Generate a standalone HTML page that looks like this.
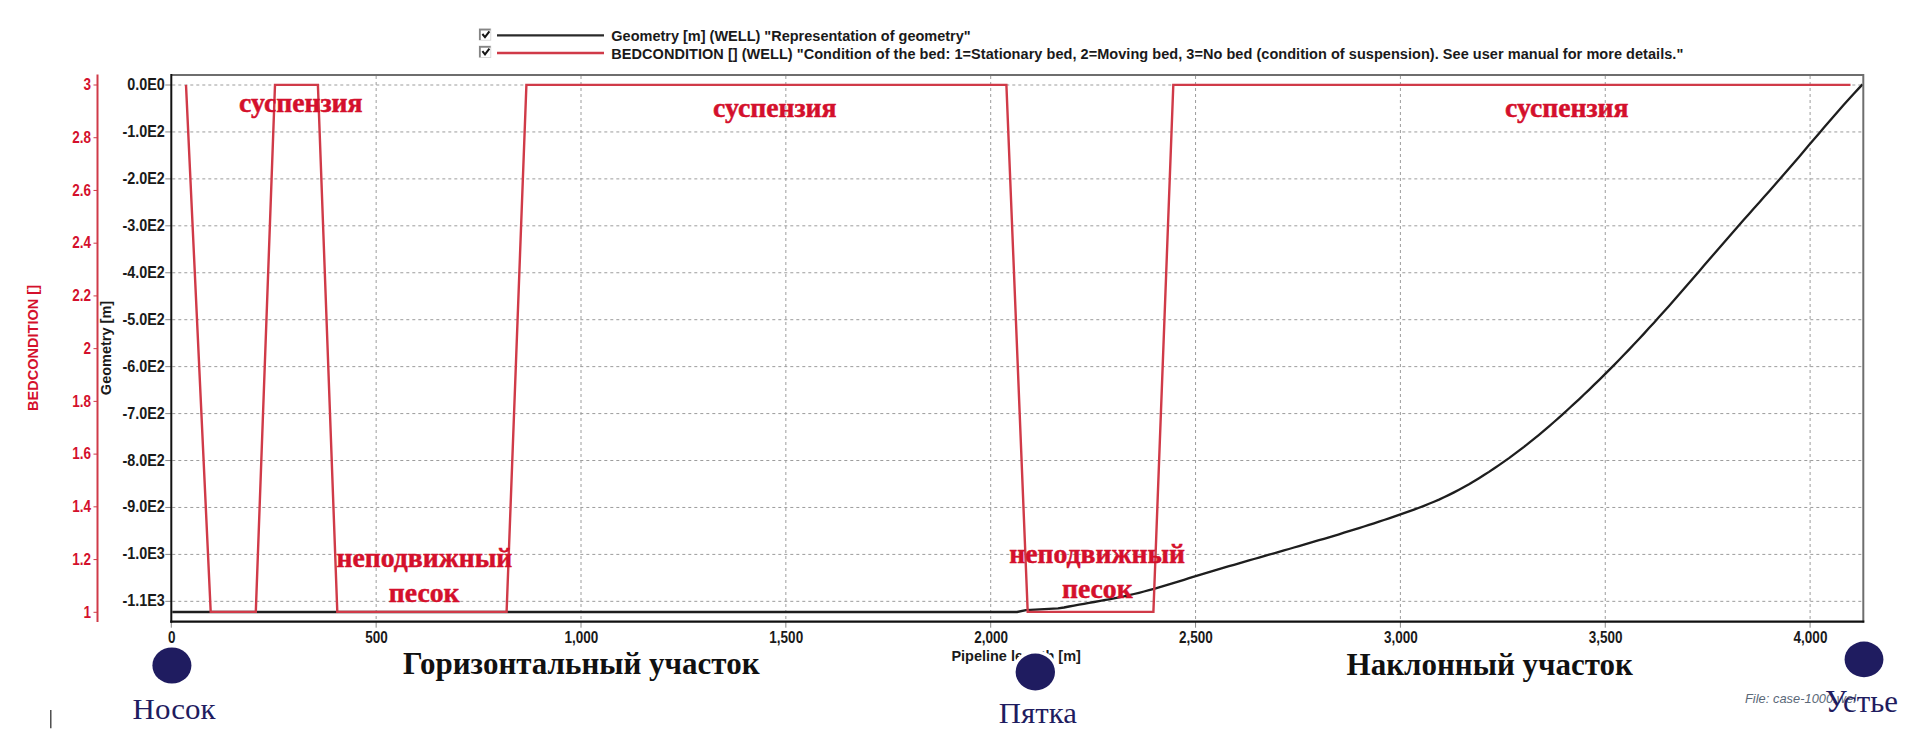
<!DOCTYPE html><html><head><meta charset="utf-8"><style>html,body{margin:0;padding:0;background:#fff;width:1929px;height:750px;overflow:hidden}svg{display:block}</style></head><body>
<svg width="1929" height="750" viewBox="0 0 1929 750">
<rect x="0" y="0" width="1929" height="750" fill="#fff"/>
<g stroke="#9c9c9c" stroke-width="1" stroke-dasharray="3 3"><line x1="172.3" y1="85.00" x2="1862.3" y2="85.00"/><line x1="172.3" y1="131.94" x2="1862.3" y2="131.94"/><line x1="172.3" y1="178.88" x2="1862.3" y2="178.88"/><line x1="172.3" y1="225.82" x2="1862.3" y2="225.82"/><line x1="172.3" y1="272.76" x2="1862.3" y2="272.76"/><line x1="172.3" y1="319.70" x2="1862.3" y2="319.70"/><line x1="172.3" y1="366.64" x2="1862.3" y2="366.64"/><line x1="172.3" y1="413.58" x2="1862.3" y2="413.58"/><line x1="172.3" y1="460.52" x2="1862.3" y2="460.52"/><line x1="172.3" y1="507.46" x2="1862.3" y2="507.46"/><line x1="172.3" y1="554.40" x2="1862.3" y2="554.40"/><line x1="172.3" y1="601.34" x2="1862.3" y2="601.34"/><line x1="376.15" y1="76.0" x2="376.15" y2="620.7"/><line x1="581.00" y1="76.0" x2="581.00" y2="620.7"/><line x1="785.85" y1="76.0" x2="785.85" y2="620.7"/><line x1="990.70" y1="76.0" x2="990.70" y2="620.7"/><line x1="1195.55" y1="76.0" x2="1195.55" y2="620.7"/><line x1="1400.40" y1="76.0" x2="1400.40" y2="620.7"/><line x1="1605.25" y1="76.0" x2="1605.25" y2="620.7"/><line x1="1810.10" y1="76.0" x2="1810.10" y2="620.7"/></g>
<g stroke="#888" stroke-width="1"><line x1="165.3" y1="85.00" x2="171.3" y2="85.00"/><line x1="165.3" y1="131.94" x2="171.3" y2="131.94"/><line x1="165.3" y1="178.88" x2="171.3" y2="178.88"/><line x1="165.3" y1="225.82" x2="171.3" y2="225.82"/><line x1="165.3" y1="272.76" x2="171.3" y2="272.76"/><line x1="165.3" y1="319.70" x2="171.3" y2="319.70"/><line x1="165.3" y1="366.64" x2="171.3" y2="366.64"/><line x1="165.3" y1="413.58" x2="171.3" y2="413.58"/><line x1="165.3" y1="460.52" x2="171.3" y2="460.52"/><line x1="165.3" y1="507.46" x2="171.3" y2="507.46"/><line x1="165.3" y1="554.40" x2="171.3" y2="554.40"/><line x1="165.3" y1="601.34" x2="171.3" y2="601.34"/><line x1="171.30" y1="621.7" x2="171.30" y2="627.7"/><line x1="376.15" y1="621.7" x2="376.15" y2="627.7"/><line x1="581.00" y1="621.7" x2="581.00" y2="627.7"/><line x1="785.85" y1="621.7" x2="785.85" y2="627.7"/><line x1="990.70" y1="621.7" x2="990.70" y2="627.7"/><line x1="1195.55" y1="621.7" x2="1195.55" y2="627.7"/><line x1="1400.40" y1="621.7" x2="1400.40" y2="627.7"/><line x1="1605.25" y1="621.7" x2="1605.25" y2="627.7"/><line x1="1810.10" y1="621.7" x2="1810.10" y2="627.7"/></g>
<polyline fill="none" stroke="#1e1e1e" stroke-width="2.3" stroke-linejoin="round" points="172.3,612.0 1017.0,612.0 1026.0,610.2 1058.0,608.4 1064.0,607.5 1069.0,606.5 1074.0,605.6 1079.0,604.7 1084.0,603.8 1089.0,602.9 1094.0,602.0 1099.0,601.1 1104.0,600.2 1109.0,599.3 1114.0,598.3 1119.0,597.3 1124.0,596.3 1129.0,595.2 1134.0,594.0 1139.0,592.8 1144.0,591.5 1149.0,590.2 1154.0,588.8 1159.0,587.3 1164.0,585.9 1169.0,584.4 1174.0,582.9 1179.0,581.3 1184.0,579.8 1189.0,578.2 1194.0,576.7 1199.0,575.2 1204.0,573.7 1209.0,572.2 1214.0,570.7 1219.0,569.2 1224.0,567.7 1229.0,566.2 1234.0,564.8 1239.0,563.3 1244.0,561.9 1249.0,560.4 1254.0,559.0 1259.0,557.6 1264.0,556.1 1269.0,554.7 1274.0,553.3 1279.0,551.8 1284.0,550.4 1289.0,549.0 1294.0,547.5 1299.0,546.1 1304.0,544.6 1309.0,543.2 1314.0,541.7 1319.0,540.2 1324.0,538.8 1329.0,537.3 1334.0,535.8 1339.0,534.3 1344.0,532.7 1349.0,531.2 1354.0,529.7 1359.0,528.1 1364.0,526.5 1369.0,524.9 1374.0,523.3 1379.0,521.6 1384.0,520.0 1389.0,518.3 1394.0,516.6 1399.0,514.9 1404.0,513.2 1409.0,511.4 1414.0,509.6 1419.0,507.7 1424.0,505.8 1429.0,503.8 1434.0,501.7 1439.0,499.6 1444.0,497.3 1449.0,494.9 1454.0,492.4 1459.0,489.8 1464.0,487.1 1469.0,484.3 1474.0,481.3 1479.0,478.2 1484.0,475.1 1489.0,471.9 1494.0,468.5 1499.0,465.1 1504.0,461.6 1509.0,458.1 1514.0,454.4 1519.0,450.7 1524.0,446.9 1529.0,442.9 1534.0,438.9 1539.0,434.8 1544.0,430.6 1549.0,426.3 1554.0,422.0 1559.0,417.6 1564.0,413.1 1569.0,408.5 1574.0,403.9 1579.0,399.3 1584.0,394.5 1589.0,389.8 1594.0,384.9 1599.0,380.1 1604.0,375.1 1609.0,370.1 1614.0,365.1 1619.0,360.0 1624.0,354.8 1629.0,349.6 1634.0,344.3 1639.0,339.0 1644.0,333.6 1649.0,328.1 1654.0,322.7 1659.0,317.1 1664.0,311.5 1669.0,305.9 1674.0,300.2 1679.0,294.5 1684.0,288.7 1689.0,283.0 1694.0,277.2 1699.0,271.4 1704.0,265.6 1709.0,259.8 1714.0,254.0 1719.0,248.2 1724.0,242.4 1729.0,236.7 1734.0,230.9 1739.0,225.2 1744.0,219.6 1749.0,213.9 1754.0,208.3 1759.0,202.7 1764.0,197.1 1769.0,191.4 1774.0,185.8 1779.0,180.1 1784.0,174.3 1789.0,168.5 1794.0,162.7 1799.0,156.9 1804.0,151.0 1809.0,145.1 1814.0,139.3 1819.0,133.4 1824.0,127.6 1829.0,121.8 1834.0,116.0 1839.0,110.3 1844.0,104.6 1849.0,99.1 1854.0,93.5 1859.0,88.1 1862.5,84.4"/>
<polyline fill="none" stroke="#d03a48" stroke-width="2.4" stroke-linejoin="miter" points="186.0,84.9 210.7,611.9 255.8,611.9 275.0,84.9 317.9,84.9 337.3,611.9 506.6,611.9 526.4,84.9 1006.4,84.9 1027.7,611.9 1153.4,611.9 1173.3,84.9 1850.5,84.9"/>
<line x1="171.3" y1="75" x2="1863.3" y2="75" stroke="#6e6e6e" stroke-width="2"/>
<line x1="1863.3" y1="74" x2="1863.3" y2="622.5" stroke="#6e6e6e" stroke-width="2"/>
<line x1="170.3" y1="621.7" x2="1864.3" y2="621.7" stroke="#111" stroke-width="2.2"/>
<line x1="171.3" y1="74" x2="171.3" y2="622.8" stroke="#111" stroke-width="2"/>
<line x1="97.5" y1="74.5" x2="97.5" y2="622" stroke="#d03a48" stroke-width="2"/>
<g stroke="#d03a48" stroke-width="1"><line x1="93.5" y1="85.00" x2="97.5" y2="85.00"/><line x1="93.5" y1="137.73" x2="97.5" y2="137.73"/><line x1="93.5" y1="190.46" x2="97.5" y2="190.46"/><line x1="93.5" y1="243.19" x2="97.5" y2="243.19"/><line x1="93.5" y1="295.92" x2="97.5" y2="295.92"/><line x1="93.5" y1="348.65" x2="97.5" y2="348.65"/><line x1="93.5" y1="401.38" x2="97.5" y2="401.38"/><line x1="93.5" y1="454.11" x2="97.5" y2="454.11"/><line x1="93.5" y1="506.84" x2="97.5" y2="506.84"/><line x1="93.5" y1="559.57" x2="97.5" y2="559.57"/><line x1="93.5" y1="612.30" x2="97.5" y2="612.30"/></g>
<g font-family="Liberation Sans, sans-serif" font-weight="bold" font-size="14.4" fill="#1a1a1a"><text transform="translate(164.8,90.00) scale(1,1.1)" text-anchor="end">0.0E0</text><text transform="translate(164.8,136.94) scale(1,1.1)" text-anchor="end">-1.0E2</text><text transform="translate(164.8,183.88) scale(1,1.1)" text-anchor="end">-2.0E2</text><text transform="translate(164.8,230.82) scale(1,1.1)" text-anchor="end">-3.0E2</text><text transform="translate(164.8,277.76) scale(1,1.1)" text-anchor="end">-4.0E2</text><text transform="translate(164.8,324.70) scale(1,1.1)" text-anchor="end">-5.0E2</text><text transform="translate(164.8,371.64) scale(1,1.1)" text-anchor="end">-6.0E2</text><text transform="translate(164.8,418.58) scale(1,1.1)" text-anchor="end">-7.0E2</text><text transform="translate(164.8,465.52) scale(1,1.1)" text-anchor="end">-8.0E2</text><text transform="translate(164.8,512.46) scale(1,1.1)" text-anchor="end">-9.0E2</text><text transform="translate(164.8,559.40) scale(1,1.1)" text-anchor="end">-1.0E3</text><text transform="translate(164.8,606.34) scale(1,1.1)" text-anchor="end">-1.1E3</text></g>
<g font-family="Liberation Sans, sans-serif" font-weight="bold" font-size="13.5" fill="#d4102c"><text transform="translate(91,90.20) scale(1,1.17)" text-anchor="end">3</text><text transform="translate(91,142.93) scale(1,1.17)" text-anchor="end">2.8</text><text transform="translate(91,195.66) scale(1,1.17)" text-anchor="end">2.6</text><text transform="translate(91,248.39) scale(1,1.17)" text-anchor="end">2.4</text><text transform="translate(91,301.12) scale(1,1.17)" text-anchor="end">2.2</text><text transform="translate(91,353.85) scale(1,1.17)" text-anchor="end">2</text><text transform="translate(91,406.58) scale(1,1.17)" text-anchor="end">1.8</text><text transform="translate(91,459.31) scale(1,1.17)" text-anchor="end">1.6</text><text transform="translate(91,512.04) scale(1,1.17)" text-anchor="end">1.4</text><text transform="translate(91,564.77) scale(1,1.17)" text-anchor="end">1.2</text><text transform="translate(91,617.50) scale(1,1.17)" text-anchor="end">1</text></g>
<g font-family="Liberation Sans, sans-serif" font-weight="bold" font-size="13.5" fill="#1a1a1a"><text transform="translate(171.70,643) scale(1,1.2)" text-anchor="middle">0</text><text transform="translate(376.55,643) scale(1,1.2)" text-anchor="middle">500</text><text transform="translate(581.40,643) scale(1,1.2)" text-anchor="middle">1,000</text><text transform="translate(786.25,643) scale(1,1.2)" text-anchor="middle">1,500</text><text transform="translate(991.10,643) scale(1,1.2)" text-anchor="middle">2,000</text><text transform="translate(1195.95,643) scale(1,1.2)" text-anchor="middle">2,500</text><text transform="translate(1400.80,643) scale(1,1.2)" text-anchor="middle">3,000</text><text transform="translate(1605.65,643) scale(1,1.2)" text-anchor="middle">3,500</text><text transform="translate(1810.50,643) scale(1,1.2)" text-anchor="middle">4,000</text></g>
<text font-family="Liberation Sans, sans-serif" font-weight="bold" font-size="14.5" fill="#d4102c" transform="translate(37.8,348) rotate(-90)" text-anchor="middle" textLength="126" lengthAdjust="spacing">BEDCONDITION []</text>
<text font-family="Liberation Sans, sans-serif" font-weight="bold" font-size="14.5" fill="#1a1a1a" transform="translate(110.6,348) rotate(-90)" text-anchor="middle">Geometry [m]</text>
<text font-family="Liberation Sans, sans-serif" font-weight="bold" font-size="14.5" fill="#1a1a1a" x="951.4" y="661" textLength="129.5" lengthAdjust="spacing">Pipeline length [m]</text>
<rect x="479.2" y="28.8" width="11.6" height="11.4" fill="#fff" stroke="#d0d0d0" stroke-width="0.8"/>
<path d="M479.9,40.0 V29.7 H490.6" fill="none" stroke="#858585" stroke-width="1.8"/>
<polyline points="482.4,34.0 485,37.2 489.4,31.4" fill="none" stroke="#151515" stroke-width="2"/>
<rect x="479.2" y="46.0" width="11.6" height="11.4" fill="#fff" stroke="#d0d0d0" stroke-width="0.8"/>
<path d="M479.9,57.2 V46.9 H490.6" fill="none" stroke="#858585" stroke-width="1.8"/>
<polyline points="482.4,51.2 485,54.4 489.4,48.6" fill="none" stroke="#151515" stroke-width="2"/>
<line x1="497" y1="35.3" x2="604" y2="35.3" stroke="#2a2a2a" stroke-width="2.2"/>
<line x1="497" y1="53" x2="604" y2="53" stroke="#d03a48" stroke-width="2.4"/>
<text font-family="Liberation Sans, sans-serif" font-weight="bold" font-size="14.5" fill="#1a1a1a" x="611.3" y="40.5">Geometry [m] (WELL) "Representation of geometry"</text>
<text font-family="Liberation Sans, sans-serif" font-weight="bold" font-size="14.5" fill="#1a1a1a" x="611.3" y="58.8" textLength="1072" lengthAdjust="spacing">BEDCONDITION [] (WELL) "Condition of the bed: 1=Stationary bed, 2=Moving bed, 3=No bed (condition of suspension). See user manual for more details."</text>
<g font-family="Liberation Serif, serif" font-weight="bold" font-size="27.7" fill="#d4102c" stroke="#d4102c" stroke-width="0.5"><text x="239" y="111.8">суспензия</text><text x="713" y="116.8">суспензия</text><text x="1505" y="116.8">суспензия</text><text x="336.5" y="566.6">неподвижный</text><text x="388.8" y="601.9">песок</text><text x="1009.3" y="563">неподвижный</text><text x="1062" y="597.7">песок</text></g>
<g font-family="Liberation Serif, serif" font-weight="bold" font-size="31" fill="#111"><text x="403" y="674.4">Горизонтальный участок</text><text x="1346.6" y="674.8">Наклонный участок</text></g>
<text font-family="Liberation Sans, sans-serif" font-style="italic" font-size="12.8" fill="#5a6878" x="1745" y="703" textLength="111" lengthAdjust="spacing">File: case-1000.wel</text>
<g fill="#fff"><ellipse cx="171.9" cy="665.5" rx="23.0" ry="21.5"/><ellipse cx="1035.3" cy="672.0" rx="23.2" ry="21.9"/><ellipse cx="1864.0" cy="659.4" rx="22.9" ry="21.3"/></g>
<g fill="#1f1c60"><ellipse cx="171.9" cy="665.5" rx="19.5" ry="18.0"/><ellipse cx="1035.3" cy="672.0" rx="19.7" ry="18.4"/><ellipse cx="1864.0" cy="659.4" rx="19.4" ry="17.8"/></g>
<g font-family="Liberation Serif, serif" font-size="30.5" fill="#1f1c60"><text transform="translate(132.6,719) scale(1.015,0.95)">Носок</text><text transform="translate(998.8,723) scale(1.01,0.96)">Пятка</text><text transform="translate(1825,712.3) scale(1.01,1)">Устье</text></g>
<line x1="50.8" y1="710" x2="50.8" y2="728.3" stroke="#333" stroke-width="1.3"/>
</svg></body></html>
